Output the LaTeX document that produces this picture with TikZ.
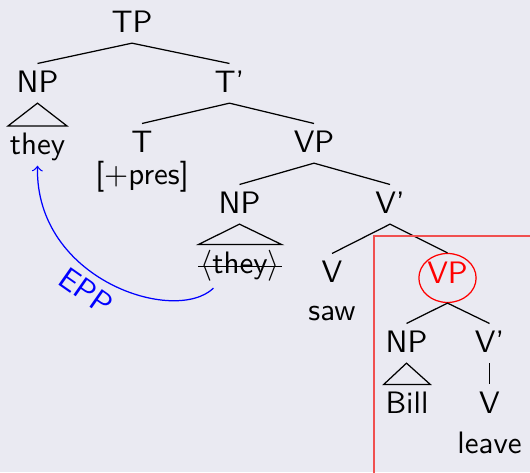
\documentclass[tikz,border=0pt]{standalone}
\usepackage{fontspec}
\usetikzlibrary{shapes.geometric}
\definecolor{pagebg}{RGB}{234,234,242}
\definecolor{boxred}{RGB}{240,80,80}
\begin{document}
\begin{tikzpicture}[x=0.3226pt, y=-0.3226pt,
  every node/.style={font=\sffamily\fontsize{10}{12}\selectfont},
  tn/.style={anchor=base, inner xsep=0.4pt, inner ysep=2.06pt,
             text height=6.94pt, text depth=1.34pt},
  word/.style={anchor=base, inner sep=0pt},
  branch/.style={draw=black, line width=0.4pt},
  movement/.style={draw=blue, line width=0.4pt, ->},
  circled/.style={anchor=base, draw=red, text=red, ellipse, inner sep=0pt,
                  minimum width=18.07pt, minimum height=15.8pt, text depth=3.7pt}]
\useasboundingbox (0,0) rectangle (530,472);
\fill[pagebg] (0,0) rectangle (530,472);

% nodes of the tree
\node[tn] (tp)   at (132,32)   {TP};
\node[tn] (np1)  at (37.5,92)  {NP};
\node[tn] (tbar) at (229.5,92) {T'};
\node[tn] (they1) at (37.5,154.5) {they};
\node[tn] (t)    at (142,152)  {T};
\node[word] (pres) at (142,184) {[+pres]};
\node[tn] (vp1)  at (314,152)  {VP};
\node[tn] (np2)  at (239.5,213) {NP};
\node[tn] (they2) at (240,273) {$\langle$they$\rangle$};
\node[tn] (vbar1) at (390,213) {V'};
\node[tn] (v1)   at (332,282)  {V};
\node[word] (saw) at (332,320) {saw};
\node[circled] (vp2) at (447.5,283) {VP};
\node[tn] (np3)  at (406.5,352) {NP};
\node[tn] (bill) at (407,413)  {Bill};
\node[tn] (vbar2) at (489.5,352) {V'};
\node[tn] (v2)   at (489.5,413) {V};
\node[word] (leave) at (489.5,453.5) {leave};

% branches
\draw[branch] (np1.north) -- (tp.south) -- (tbar.north);
\draw[branch] (t.north) -- (tbar.south) -- (vp1.north);
\draw[branch] (np2.north) -- (vp1.south) -- (vbar1.north);
\draw[branch] (v1.north) -- (vbar1.south) -- (vp2.north);
\draw[branch] (np3.north) -- (vp2.south) -- (vbar2.north);
\draw[branch] (vbar2.south) -- (v2.north);

% roofs
\draw[branch] (np1.south) -- (they1.north west) -- (they1.north east) -- cycle;
\draw[branch] (np2.south) -- (they2.north west) -- (they2.north east) -- cycle;
\draw[branch] (np3.south) -- (bill.north west) -- (bill.north east) -- cycle;

% deleted copy
\draw[branch] ([yshift=2pt]they2.base west) -- ([yshift=2pt]they2.base east);

% movement arrow
\draw[movement] ([shift={(15,4)}]they2.south west)
  .. controls (175,325) and (35,280) .. (they1.south);
\node[text=blue, rotate=-35] (epp) at (86,291) {EPP};

% highlighted region
\draw[boxred, line width=0.4pt] (374,474) |- (532,236);
\end{tikzpicture}
\end{document}
